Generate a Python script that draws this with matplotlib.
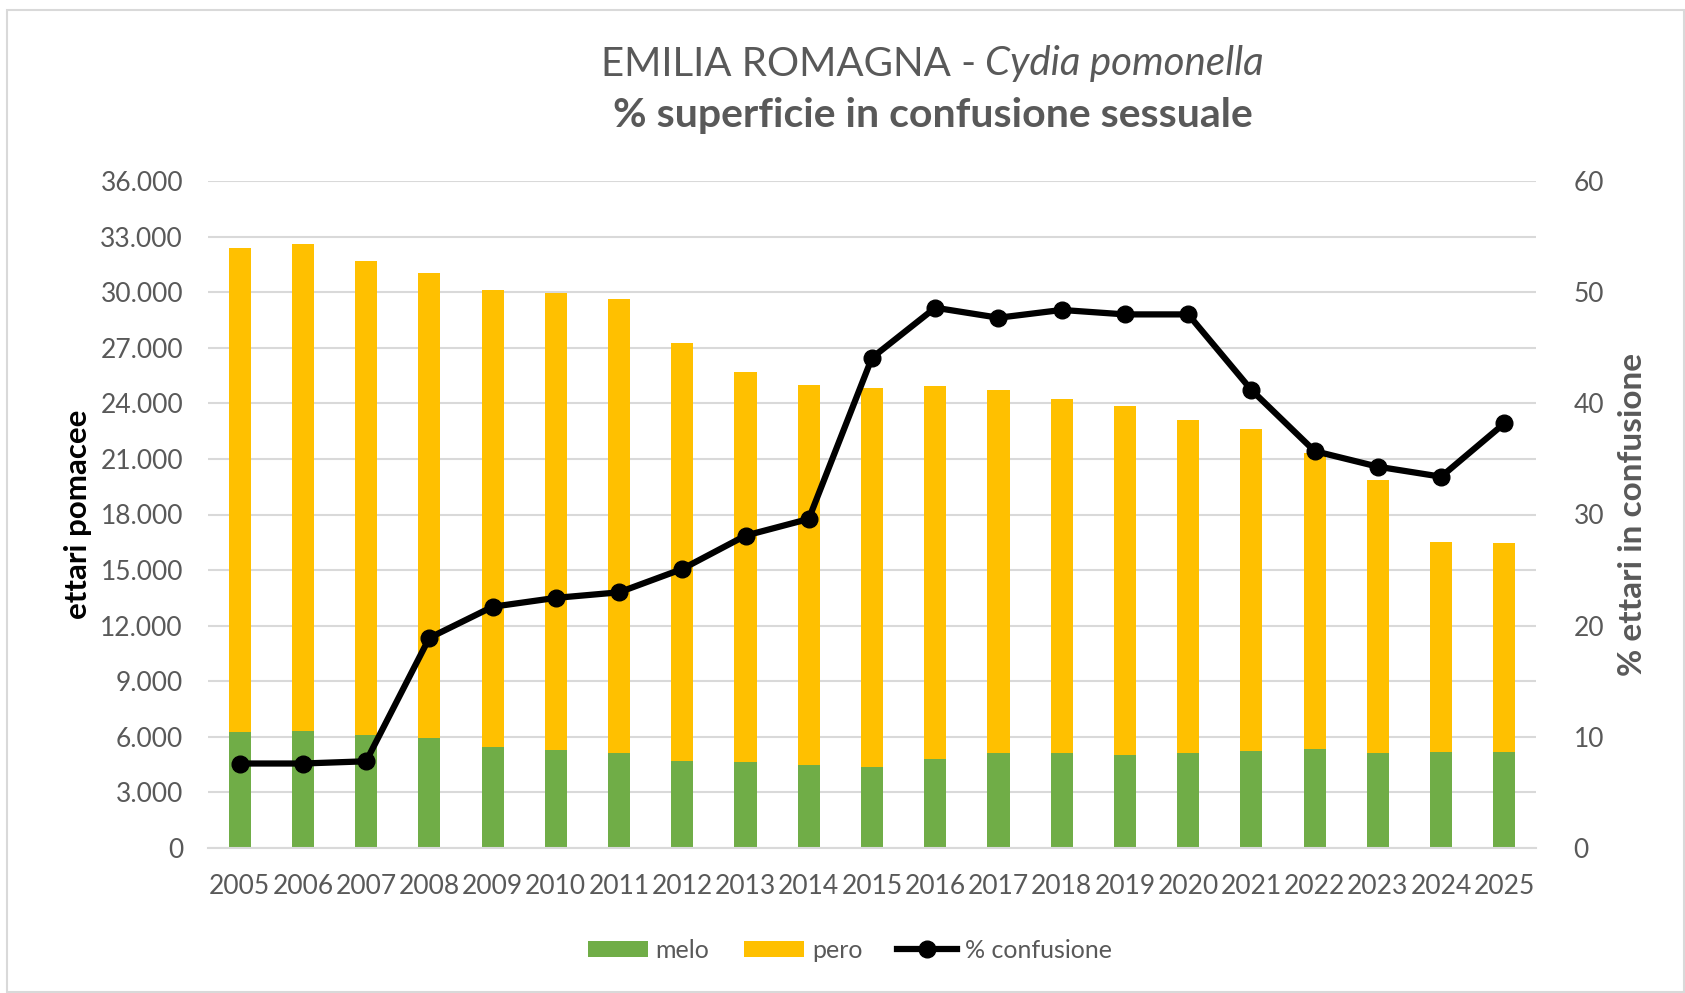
import matplotlib.pyplot as plt
import matplotlib.patches as mpatches
from matplotlib.ticker import FuncFormatter
import numpy as np

# dati
anni = [str(a) for a in range(2005, 2026)]
melo = [6270, 6340, 6100, 5930, 5430, 5280, 5140, 4700, 4630, 4460, 4390,
        4800, 5110, 5110, 5020, 5110, 5260, 5350, 5110, 5190, 5190]
pero = [26110, 26240, 25560, 25080, 24690, 24690, 24490, 22550, 21070, 20520, 20420,
        20110, 19630, 19150, 18830, 18010, 17360, 15950, 14740, 11330, 11250]
confusione = [7.6, 7.6, 7.8, 18.9, 21.7, 22.5, 23.0, 25.1, 28.1, 29.6, 44.1,
              48.6, 47.7, 48.4, 48.0, 48.0, 41.2, 35.7, 34.3, 33.4, 38.2]

VERDE = '#70AD47'
GIALLO = '#FFC000'
GRIGIO = '#595959'
GRIGLIA = '#D9D9D9'

plt.rcParams['font.family'] = ['Lato', 'DejaVu Sans']

W, H = 1685, 993
fig = plt.figure(figsize=(W / 100, H / 100), dpi=100)
ax = fig.add_axes([208 / W, 1 - 848 / H, (1536 - 208) / W, (848 - 181) / H])

x = np.arange(len(anni))
ax.bar(x, melo, width=0.35, color=VERDE, label='melo', zorder=2)
ax.bar(x, pero, width=0.35, bottom=melo, color=GIALLO, label='pero', zorder=2)

ax.set_xlim(-0.5, len(anni) - 0.5)
ax.set_ylim(0, 36000)
ax.set_yticks(np.arange(0, 36001, 3000))
ax.yaxis.set_major_formatter(FuncFormatter(lambda v, p: f'{int(v):,}'.replace(',', '.')))
ax.set_xticks(x)
ax.set_xticklabels(anni)
ax.grid(axis='y', color=GRIGLIA, linewidth=1.5, zorder=0)
ax.set_axisbelow(True)
for s in ['top', 'right', 'left']:
    ax.spines[s].set_visible(False)
ax.spines['bottom'].set_color(GRIGLIA)
ax.spines['bottom'].set_linewidth(1.5)
ax.tick_params(axis='both', length=0, labelsize=19, labelcolor=GRIGIO)
ax.tick_params(axis='y', pad=18)
ax.tick_params(axis='x', pad=19)
ax.set_ylabel('ettari pomacee', fontsize=22.5, fontweight='bold', color='black', labelpad=6)

ax2 = ax.twinx()
ax2.plot(x, confusione, color='black', linewidth=4.5, marker='o', markersize=12,
         label='% confusione', zorder=3)
ax2.set_ylim(0, 60)
ax2.set_yticks(np.arange(0, 61, 10))
for s in ax2.spines.values():
    s.set_visible(False)
ax2.tick_params(axis='y', length=0, labelsize=19, labelcolor=GRIGIO, pad=27)
ax2.set_ylabel('% ettari in confusione', fontsize=24, fontweight='bold', color=GRIGIO, labelpad=10)

# titolo su due righe (parte in corsivo)
fig.text(976 / W, 1 - 64 / H, 'EMILIA ROMAGNA -', ha='right', va='center',
         fontsize=29, color=GRIGIO)
fig.text(985 / W, 1 - 64 / H, 'Cydia pomonella', ha='left', va='center',
         fontsize=29, color=GRIGIO, style='italic')
fig.text(933 / W, 1 - 116 / H, '% superficie in confusione sessuale', ha='center', va='center',
         fontsize=29.5, color=GRIGIO, fontweight='bold')

# legenda
h1, l1 = ax.get_legend_handles_labels()
h2, l2 = ax2.get_legend_handles_labels()
leg = fig.legend(h1 + h2, l1 + l2, loc='center', bbox_to_anchor=(850 / W, 1 - 950 / H),
                 ncol=3, frameon=False, fontsize=18, handlelength=2.4, handleheight=0.6,
                 handletextpad=0.3, columnspacing=1.4)
for t in leg.get_texts():
    t.set_color(GRIGIO)

# bordo del grafico
fig.patches.append(mpatches.Rectangle((7 / W, 1 / H), 1677 / W, 982 / H,
                                      transform=fig.transFigure, fill=False,
                                      edgecolor=GRIGLIA, linewidth=1.5))

fig.savefig('out.png', dpi=100)
